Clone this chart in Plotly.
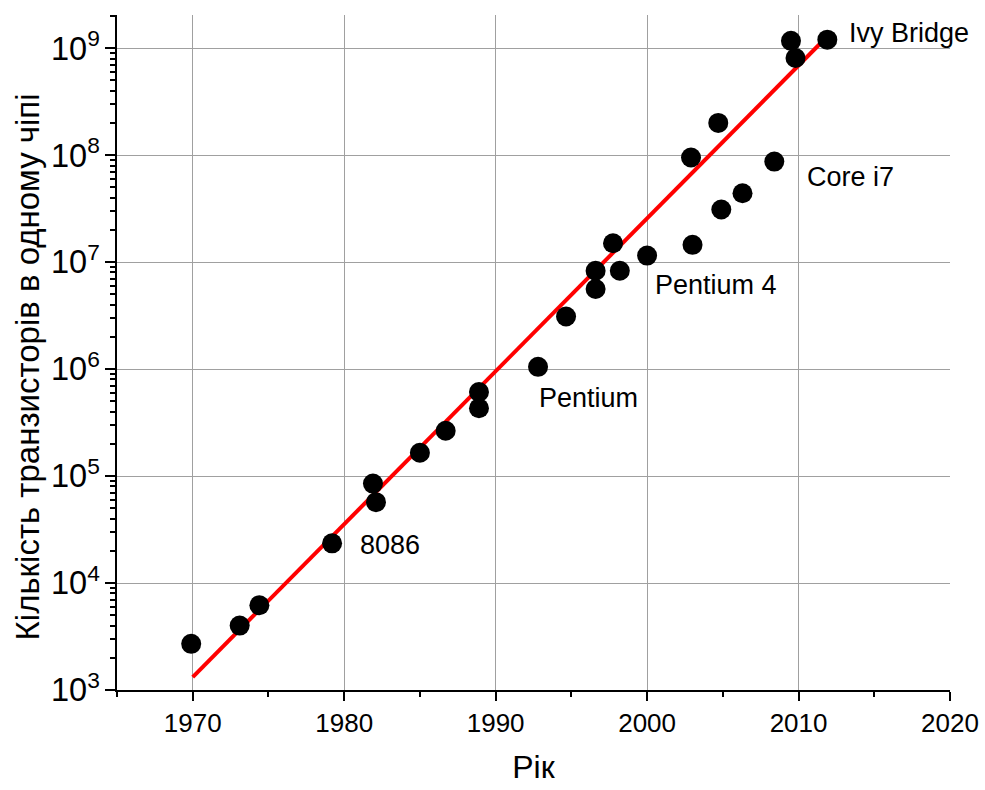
import plotly.graph_objects as go
import numpy as np

years = [1969.9, 1973.1, 1974.4, 1979.2, 1981.9, 1982.1, 1985.0, 1986.7, 1988.9, 1988.9,
         1992.8, 1994.65, 1996.6, 1996.6, 1997.75, 1998.2, 2000.0, 2002.9, 2003.0, 2004.7,
         2004.9, 2006.3, 2008.4, 2009.5, 2009.8, 2011.9]
transistors = [2700, 4000, 6200, 23500, 85000, 57000, 165000, 265000, 610000, 430000,
               1.05e6, 3.1e6, 5.6e6, 8.3e6, 1.5e7, 8.3e6, 1.15e7, 9.5e7, 1.45e7, 2.0e8,
               3.1e7, 4.4e7, 8.7e7, 1.17e9, 8.1e8, 1.2e9]

fit_years = [1970, 2011.5]
fit_values = [1320, 1.13e9]

label_text = ["Ivy Bridge", "Core i7", "Pentium 4", "Pentium", "8086"]
label_years = [2013.2, 2010.4, 2000.4, 1992.75, 1980.9]
label_values = [1.4e9, 6.2e7, 6.1e6, 5.4e5, 2.25e4]

y_title = "Кількість транзисторів в одному чіпі"
x_title = "Рік"

FONT = "Liberation Sans, Arial, sans-serif"

fig = go.Figure()
fig.add_trace(go.Scatter(x=fit_years, y=fit_values, mode="lines",
                         line=dict(color="#ff0000", width=4), showlegend=False))
fig.add_trace(go.Scatter(x=years, y=transistors, mode="markers",
                         marker=dict(color="black", size=20), showlegend=False))

for t, xv, yv in zip(label_text, label_years, label_values):
    fig.add_annotation(x=xv, y=np.log10(yv), text=t, showarrow=False,
                       xanchor="left", yanchor="middle",
                       font=dict(family=FONT, size=27, color="black"))

# y-axis title as rotated annotation
fig.add_annotation(xref="paper", yref="paper", x=-0.108, y=0.478, text=y_title,
                   textangle=-90, showarrow=False, xanchor="center", yanchor="middle",
                   font=dict(family=FONT, size=33, color="black"))

fig.update_layout(
    width=985, height=790,
    margin=dict(l=117, r=35, t=15, b=100, autoexpand=False),
    plot_bgcolor="white", paper_bgcolor="white",
    font=dict(family=FONT, color="black"),
)
fig.update_xaxes(
    range=[1965, 2020], tick0=1970, dtick=10,
    automargin=False,
    showline=True, linecolor="black", linewidth=2,
    ticks="outside", ticklen=9, tickwidth=2, tickcolor="black",
    showgrid=True, gridcolor="#a0a0a0", gridwidth=1,
    zeroline=False,
    tickfont=dict(size=26, family=FONT),
    minor=dict(ticks="outside", ticklen=5, tickwidth=2, tickcolor="black", dtick=5, showgrid=False),
    title=dict(text=x_title, font=dict(size=32, family=FONT), standoff=18),
)
fig.update_yaxes(
    type="log", range=[3, 9.31], dtick=1,
    automargin=False,
    exponentformat="power", showexponent="all",
    showline=True, linecolor="black", linewidth=2,
    ticks="outside", ticklen=10, tickwidth=2, tickcolor="black",
    showgrid=True, gridcolor="#a0a0a0", gridwidth=1,
    zeroline=False,
    tickfont=dict(size=26, family=FONT),
    minor=dict(ticks="outside", ticklen=5, tickwidth=2, tickcolor="black", dtick="D1", showgrid=False),
)

fig.write_html("out.html")
